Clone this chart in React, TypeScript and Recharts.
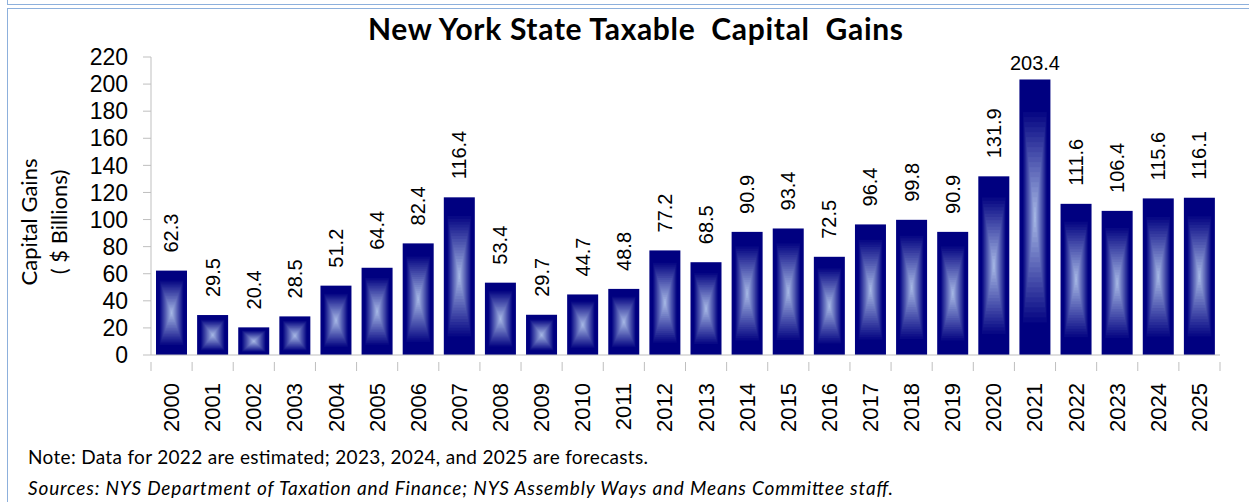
import React from 'react';
import { BarChart, Bar, XAxis, YAxis, LabelList } from 'recharts';

// 연도 / 값 (십억 달러)
const years = [
  '2000', '2001', '2002', '2003', '2004', '2005', '2006', '2007', '2008', '2009',
  '2010', '2011', '2012', '2013', '2014', '2015', '2016', '2017', '2018', '2019',
  '2020', '2021', '2022', '2023', '2024', '2025',
];
const gains = [
  62.3, 29.5, 20.4, 28.5, 51.2, 64.4, 82.4, 116.4, 53.4, 29.7,
  44.7, 48.8, 77.2, 68.5, 90.9, 93.4, 72.5, 96.4, 99.8, 90.9,
  131.9, 203.4, 111.6, 106.4, 115.6, 116.1,
];
const yTicks = [0, 20, 40, 60, 80, 100, 120, 140, 160, 180, 200, 220];

const chartData = years.map((year, i) => ({ year, value: gains[i] }));

const TICK_FONT = '"Liberation Sans", Arial, sans-serif';
const TEXT_FONT = 'Lato, "Open Sans", sans-serif';
const NAVY = [0, 0, 128];
const LIGHT = [172, 190, 232];
const BORDER = '#8DB0DC';

// 가운데가 밝은 사각형 그라데이션 막대
const GradientBar = (props: any) => {
  const { x, y, width, height } = props;
  if (!width || !height) return null;
  const steps = 22;
  const rects = [];
  for (let i = 0; i <= steps; i++) {
    const t = i / steps;
    const s = 0.8 * (1 - t);
    const c = NAVY.map((v, k) => Math.round(v + (LIGHT[k] - v) * t));
    const w = width * s;
    const h = height * s;
    rects.push(
      <rect
        key={i}
        x={x + (width - w) / 2}
        y={y + (height - h) / 2}
        width={Math.max(w, 0.6)}
        height={Math.max(h, 0.6)}
        fill={`rgb(${c[0]},${c[1]},${c[2]})`}
      />
    );
  }
  return (
    <g>
      <rect x={x} y={y} width={width} height={height} fill='#000080' />
      {rects}
    </g>
  );
};

const ValueLabel = (props: any) => {
  const { x, y, width, value } = props;
  const cx = x + width / 2;
  if (value > 200) {
    return (
      <text x={cx} y={y - 9} textAnchor='middle' fontSize={20} fontFamily={TICK_FONT} fill='#000'>
        {value.toFixed(1)}
      </text>
    );
  }
  const ty = y - 18;
  return (
    <text
      x={cx}
      y={ty}
      transform={`rotate(-90, ${cx}, ${ty})`}
      textAnchor='start'
      dominantBaseline='central'
      fontSize={20}
      fontFamily={TICK_FONT}
      fill='#000'
    >
      {value.toFixed(1)}
    </text>
  );
};

const YearTick = (props: any) => {
  const { x, y, payload, index } = props;
  const half = payload?.offset ?? 41.1 / 2;
  const ty = y + 20;
  return (
    <g>
      <line x1={x - half} y1={y - 1} x2={x - half} y2={y + 8} stroke='#BFBFBF' />
      {index === years.length - 1 && (
        <line x1={x + half} y1={y - 1} x2={x + half} y2={y + 8} stroke='#BFBFBF' />
      )}
      <text
        x={x}
        y={ty}
        transform={`rotate(-90, ${x}, ${ty})`}
        textAnchor='end'
        dominantBaseline='central'
        fontSize={22}
        fontFamily={TICK_FONT}
        fill='#000'
      >
        {payload.value}
      </text>
    </g>
  );
};

export default function App() {
  return (
    <div
      style={{
        position: 'absolute',
        left: 0,
        top: 0,
        width: 1249,
        height: 502,
        background: '#fff',
        overflow: 'hidden',
      }}
    >
      {/* 위쪽 상자 테두리 */}
      <div
        style={{
          position: 'absolute',
          left: 7,
          top: -10,
          width: 1260,
          height: 13,
          border: `1px solid ${BORDER}`,
        }}
      />
      <div
        style={{
          position: 'absolute',
          left: 7,
          top: 8,
          width: 1260,
          height: 520,
          border: `1px solid ${BORDER}`,
        }}
      />
      <div style={{ position: 'absolute', left: 0, top: 0 }}>
        <BarChart
          width={1249}
          height={440}
          data={chartData}
          margin={{ top: 57, right: 29, left: 0, bottom: 0 }}
          barSize={31}
        >
          <XAxis
            dataKey='year'
            height={85}
            interval={0}
            tickLine={false}
            axisLine={{ stroke: '#BFBFBF' }}
            tick={<YearTick />}
          />
          <YAxis
            width={151}
            domain={[0, 220]}
            ticks={yTicks}
            interval={0}
            tickSize={8}
            tickMargin={15}
            tickLine={{ stroke: '#BFBFBF' }}
            axisLine={{ stroke: '#BFBFBF' }}
            tick={{ fontSize: 23, fontFamily: TICK_FONT, fill: '#000' }}
          />
          <Bar dataKey='value' shape={<GradientBar />} isAnimationActive={false}>
            <LabelList dataKey='value' content={<ValueLabel />} />
          </Bar>
        </BarChart>
      </div>
      <svg
        width={1249}
        height={502}
        style={{ position: 'absolute', left: 0, top: 0, pointerEvents: 'none' }}
      >
        <text
          x={368}
          y={40}
          textLength={535}
          lengthAdjust='spacing'
          fontSize={30}
          fontWeight='bold'
          fontFamily={TEXT_FONT}
          fill='#000'
          xmlSpace='preserve'
        >
          New York State Taxable  Capital  Gains
        </text>
        <text
          transform='rotate(-90, 44, 222)'
          x={44}
          y={222}
          textAnchor='middle'
          fontSize={22}
          fontFamily={TEXT_FONT}
          fill='#000'
        >
          <tspan x={44} dy={-7}>Capital Gains</tspan>
          <tspan x={44} dy={30}>( $ Billions)</tspan>
        </text>
        <text
          x={28}
          y={464}
          textLength={620}
          lengthAdjust='spacing'
          fontSize={19}
          fontFamily={TEXT_FONT}
          fill='#000'
        >
          Note: Data for 2022 are estimated; 2023, 2024, and 2025 are forecasts.
        </text>
        <text
          x={28}
          y={495}
          textLength={865}
          lengthAdjust='spacing'
          fontSize={19}
          fontStyle='italic'
          fontFamily={TEXT_FONT}
          fill='#000'
        >
          Sources: NYS Department of Taxation and Finance; NYS Assembly Ways and Means Committee staff.
        </text>
      </svg>
    </div>
  );
}
